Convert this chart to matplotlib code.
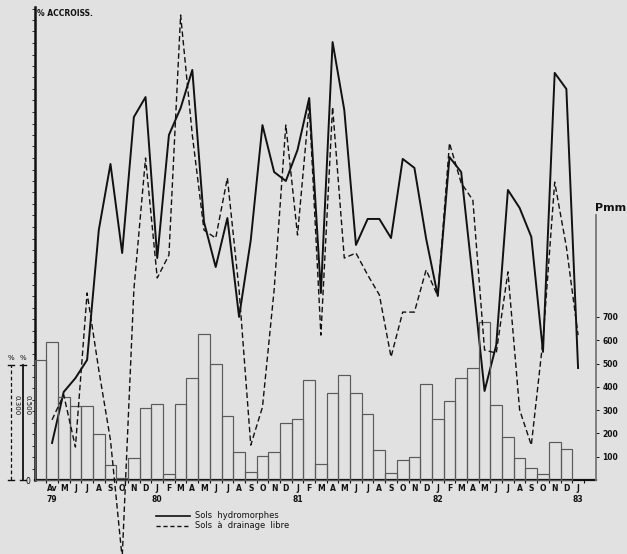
import matplotlib
matplotlib.use("Agg")
import matplotlib.pyplot as plt
import numpy as np
from matplotlib.transforms import blended_transform_factory
from matplotlib.lines import Line2D

# ---------------- data ----------------
month_labels = ["Av", "M", "J", "J", "A", "S", "O", "N", "D",
                "J", "F", "M", "A", "M", "J", "J", "A", "S", "O", "N", "D",
                "J", "F", "M", "A", "M", "J", "J", "A", "S", "O", "N", "D",
                "J", "F", "M", "A", "M", "J", "J", "A", "S", "O", "N", "D",
                "J"]
year_labels = ["79", "80", "81", "82", "83"]
year_positions = [0, 9, 21, 33, 45]

# monthly rainfall (mm), March 1979 .. December 1982
rain_months = list(range(-1, 45))
rain_mm = [515, 592, 356, 318, 318, 197, 64, 8, 94, 309,
           326, 26, 326, 438, 627, 498, 275, 120, 34, 103, 120, 245,
           262, 429, 69, 373, 451, 373, 283, 129, 30, 86, 99, 412,
           262, 339, 438, 481, 678, 322, 185, 94, 52, 26, 163, 133]

# monthly growth (%), April 1979 .. January 1983
growth_months = list(range(0, 46))
hydromorphic = [0.161, 0.383, 0.443, 0.522, 1.087, 1.374, 0.987, 1.578, 1.665,
                0.965, 1.500, 1.617, 1.783, 1.122, 0.926, 1.139, 0.709, 1.043,
                1.543, 1.339, 1.300, 1.435, 1.661, 0.813, 1.904, 1.609, 1.022,
                1.135, 1.135, 1.052, 1.396, 1.357, 1.050, 0.800, 1.404, 1.339,
                0.870, 0.387, 0.587, 1.261, 1.183, 1.057, 0.557, 1.770, 1.700,
                0.487]
free_drainage = [0.157, 0.222, 0.086, 0.488, 0.287, 0.104, -0.204, 0.496, 0.840,
                 0.527, 0.587, 1.213, 0.900, 0.652, 0.631, 0.788, 0.496, 0.091,
                 0.190, 0.496, 0.926, 0.639, 0.978, 0.378, 0.973, 0.579, 0.592,
                 0.535, 0.483, 0.321, 0.438, 0.438, 0.548, 0.480, 0.879, 0.775,
                 0.730, 0.339, 0.331, 0.543, 0.183, 0.091, 0.365, 0.777, 0.608,
                 0.378]
rain_ticks = [100, 200, 300, 400, 500, 600, 700]

# ---------------- layout ----------------
W, H = 627, 554
BG = "#e1e1e1"
INK = "#111111"
base_px = 480.0          # baseline, pixels from top
k_s = 0.5 / 115.0        # % per pixel, hydromorphic scale
k_d = 0.3 / 115.0        # % per pixel, free-drainage scale
k_m = 1 / 0.233          # mm per pixel

fig = plt.figure(figsize=(W / 100, H / 100), dpi=100, facecolor=BG)
x0, x1 = -1.5, 46.5
left_px, right_px = 34.5, 595.6
ax = fig.add_axes([left_px / W, 0, (right_px - left_px) / W, 1])
ax.set_facecolor(BG)
ax.set_xlim(x0, x1)
ax.set_ylim(-(H - base_px) * k_s, base_px * k_s)

axb = ax.twinx()
axb.set_ylim(-(H - base_px) * k_m, base_px * k_m)
axd = ax.twinx()
axd.set_ylim(-(H - base_px) * k_d, base_px * k_d)

# bars (rainfall)
axb.bar(rain_months, rain_mm, width=1.0, facecolor="none",
        edgecolor="#5a5a5a", linewidth=0.85, zorder=1)

# growth lines
ax.plot(growth_months, hydromorphic, color=INK, lw=1.4, zorder=3)
axd.plot(growth_months, free_drainage, color=INK, lw=1.0,
         dashes=(4, 2.2), zorder=3)

# ---------------- axes styling ----------------
for a in (ax, axb, axd):
    for s in a.spines.values():
        s.set_visible(False)

ax.spines["left"].set_visible(True)
ax.spines["left"].set_bounds(0, (base_px - 7) * k_s)
ax.spines["left"].set_linewidth(1.8)
ax.spines["left"].set_color(INK)
ax.spines["bottom"].set_visible(True)
ax.spines["bottom"].set_position(("data", 0))
ax.spines["bottom"].set_linewidth(1.6)
ax.spines["bottom"].set_color(INK)

ax.set_xticks(growth_months)
ax.set_xticklabels(month_labels)
ax.set_xticks(np.arange(-0.5, 46, 1.0), minor=True)
ax.tick_params(axis="x", which="major", length=0, pad=3, labelsize=5.5,
               labelcolor=INK)
ax.tick_params(axis="x", which="minor", length=2.5, width=0.8, color=INK,
               direction="out")
for lab in ax.get_xticklabels():
    lab.set_fontweight("bold")

ax.set_yticks([0])
ax.set_yticklabels(["0"])
ax.set_yticks(np.arange(0.05, 2.06, 0.05), minor=True)
ax.tick_params(axis="y", which="major", length=0, pad=3, labelsize=5.5)
ax.tick_params(axis="y", which="minor", length=2.5, width=0.6, color=INK,
               direction="out")

axb.spines["right"].set_visible(True)
axb.spines["right"].set_bounds(0, (base_px - 215) * k_m)
axb.spines["right"].set_linewidth(1.3)
axb.spines["right"].set_color("#777777")
axb.set_yticks(rain_ticks)
axb.tick_params(axis="y", length=2, width=0.7, pad=3, labelsize=5.5,
                colors=INK)
axb.tick_params(axis="x", length=0)
for lab in axb.get_yticklabels():
    lab.set_fontweight("bold")
axd.set_yticks([])

# year labels
for xp, yl in zip(year_positions, year_labels):
    ax.text(xp, -(500 - base_px) * k_s, yl, ha="center", va="center",
            fontsize=5.5, fontweight="bold", color=INK)

# titles
fig.text(37 / W, 1 - 13 / H, "% ACCROISS.", fontsize=5.5, fontweight="bold",
         ha="left", va="center", color=INK)
fig.text(611 / W, 1 - 208 / H, "Pmm", fontsize=8, fontweight="bold",
         ha="center", va="center", color=INK)

# scale bars on the left (0.300 % dashed, 0.500 % solid)
tr_s = blended_transform_factory(fig.transFigure, ax.transData)
tr_d = blended_transform_factory(fig.transFigure, axd.transData)
ax.add_line(Line2D([23 / W, 23 / W], [0, 0.5], transform=tr_s, color=INK,
                   lw=1.3, clip_on=False))
for yv in (0, 0.5):
    ax.add_line(Line2D([20 / W, 26 / W], [yv, yv], transform=tr_s, color=INK,
                       lw=1.0, clip_on=False))
axd.add_line(Line2D([11 / W, 11 / W], [0, 0.3], transform=tr_d, color=INK,
                    lw=0.9, dashes=(3, 2), clip_on=False))
for yv in (0, 0.3):
    axd.add_line(Line2D([8 / W, 14 / W], [yv, yv], transform=tr_d, color=INK,
                        lw=1.0, clip_on=False))
fig.text(11 / W, 1 - 358 / H, "%", fontsize=5, ha="center", va="center",
         color=INK)
fig.text(23 / W, 1 - 358 / H, "%", fontsize=5, ha="center", va="center",
         color=INK)
fig.text(16 / W, 1 - 405 / H, "0.300", fontsize=5, rotation=-90,
         ha="center", va="center", color=INK)
fig.text(27 / W, 1 - 405 / H, "0.500", fontsize=5, rotation=-90,
         ha="center", va="center", color=INK)

# legend
fig.add_artist(Line2D([156 / W, 190 / W], [1 - 516 / H, 1 - 516 / H],
                      color=INK, lw=1.2))
fig.add_artist(Line2D([156 / W, 190 / W], [1 - 526 / H, 1 - 526 / H],
                      color=INK, lw=1.0, dashes=(3, 2)))
fig.text(195 / W, 1 - 516 / H, "Sols  hydromorphes", fontsize=6,
         ha="left", va="center", color=INK)
fig.text(195 / W, 1 - 526 / H, "Sols  à  drainage  libre", fontsize=6,
         ha="left", va="center", color=INK)

fig.savefig("out.png", dpi=100, facecolor=BG)
